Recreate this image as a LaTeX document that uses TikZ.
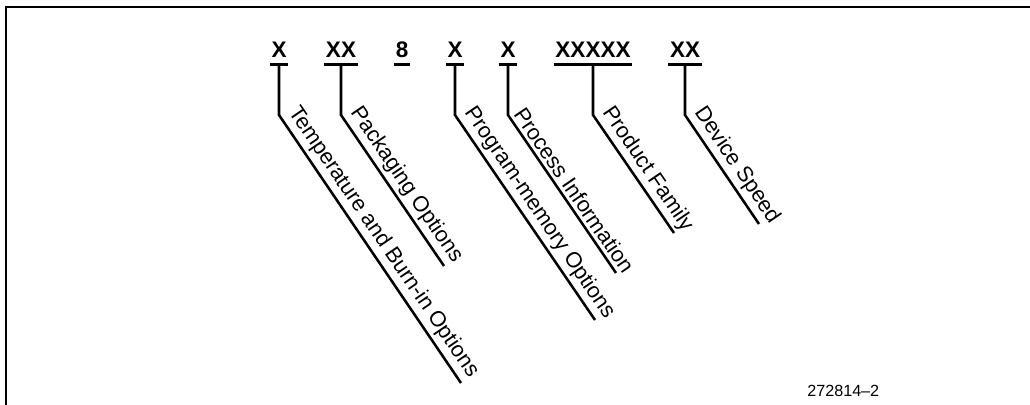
\documentclass[tikz,border=0pt]{standalone}
\usepackage{fontspec}
\setmainfont{Liberation Sans}
\begin{document}
\begin{tikzpicture}
    [
    x=0.025cm,y=-0.025cm,
    code/.style={font=\bfseries\fontsize{16}{18}\selectfont,anchor=base,inner xsep=1pt,inner ysep=4.3pt},
    uline/.style={line width=2pt},
    lead/.style={line width=1.8pt,line join=miter},
    tag/.style={rotate=-55.7,anchor=south west,inner xsep=2pt,inner ysep=3pt,font=\fontsize{15.5}{18}\selectfont},
    frame/.style={line width=1.4pt}
    ]
    \useasboundingbox (0,0) rectangle (1030,405);
    \draw [frame] (1030,7) -- (6,7) -- (6,405);
    % part number fields
    \node (temp) at (279,58) [code] {X};
    \node (pack) at (341,58) [code] {XX};
    \node (eight) at (402,58) [code] {8};
    \node (prog) at (455,58) [code] {X};
    \node (proc) at (508,58) [code] {X};
    \node (fam) at (593,58) [code] {XXXXX};
    \node (speed) at (685,58) [code] {XX};
    \draw [uline] (temp.south west) to (temp.south east);
    \draw [uline] (pack.south west) to (pack.south east);
    \draw [uline] (eight.south west) to (eight.south east);
    \draw [uline] (prog.south west) to (prog.south east);
    \draw [uline] (proc.south west) to (proc.south east);
    \draw [uline] (fam.south west) to (fam.south east);
    \draw [uline] (speed.south west) to (speed.south east);
    % bends and ends of the leaders
    \coordinate (tempb) at (279,115);
    \coordinate (tempe) at (461,383);
    \coordinate (packb) at (341,115);
    \coordinate (packe) at (444,266);
    \coordinate (progb) at (455,115);
    \coordinate (proge) at (595,320);
    \coordinate (procb) at (508,115);
    \coordinate (proce) at (616,273);
    \coordinate (famb) at (593,115);
    \coordinate (fame) at (674,233);
    \coordinate (speedb) at (685,115);
    \coordinate (speede) at (759,224);
    \draw [lead] (temp.south) to (tempb) to (tempe);
    \draw [lead] (pack.south) to (packb) to (packe);
    \draw [lead] (prog.south) to (progb) to (proge);
    \draw [lead] (proc.south) to (procb) to (proce);
    \draw [lead] (fam.south) to (famb) to (fame);
    \draw [lead] (speed.south) to (speedb) to (speede);
    \node (templ) at (tempb) [tag] {Temperature and Burn-in Options};
    \node (packl) at (packb) [tag] {Packaging Options};
    \node (progl) at (progb) [tag] {Program-memory Options};
    \node (procl) at (procb) [tag] {Process Information};
    \node (faml) at (famb) [tag] {Product Family};
    \node (speedl) at (speedb) [tag] {Device Speed};
    \node (fig) at (807,396) [anchor=base west,inner sep=0pt,font=\fontsize{11.5}{14}\selectfont] {272814--2};
\end{tikzpicture}
\end{document}
